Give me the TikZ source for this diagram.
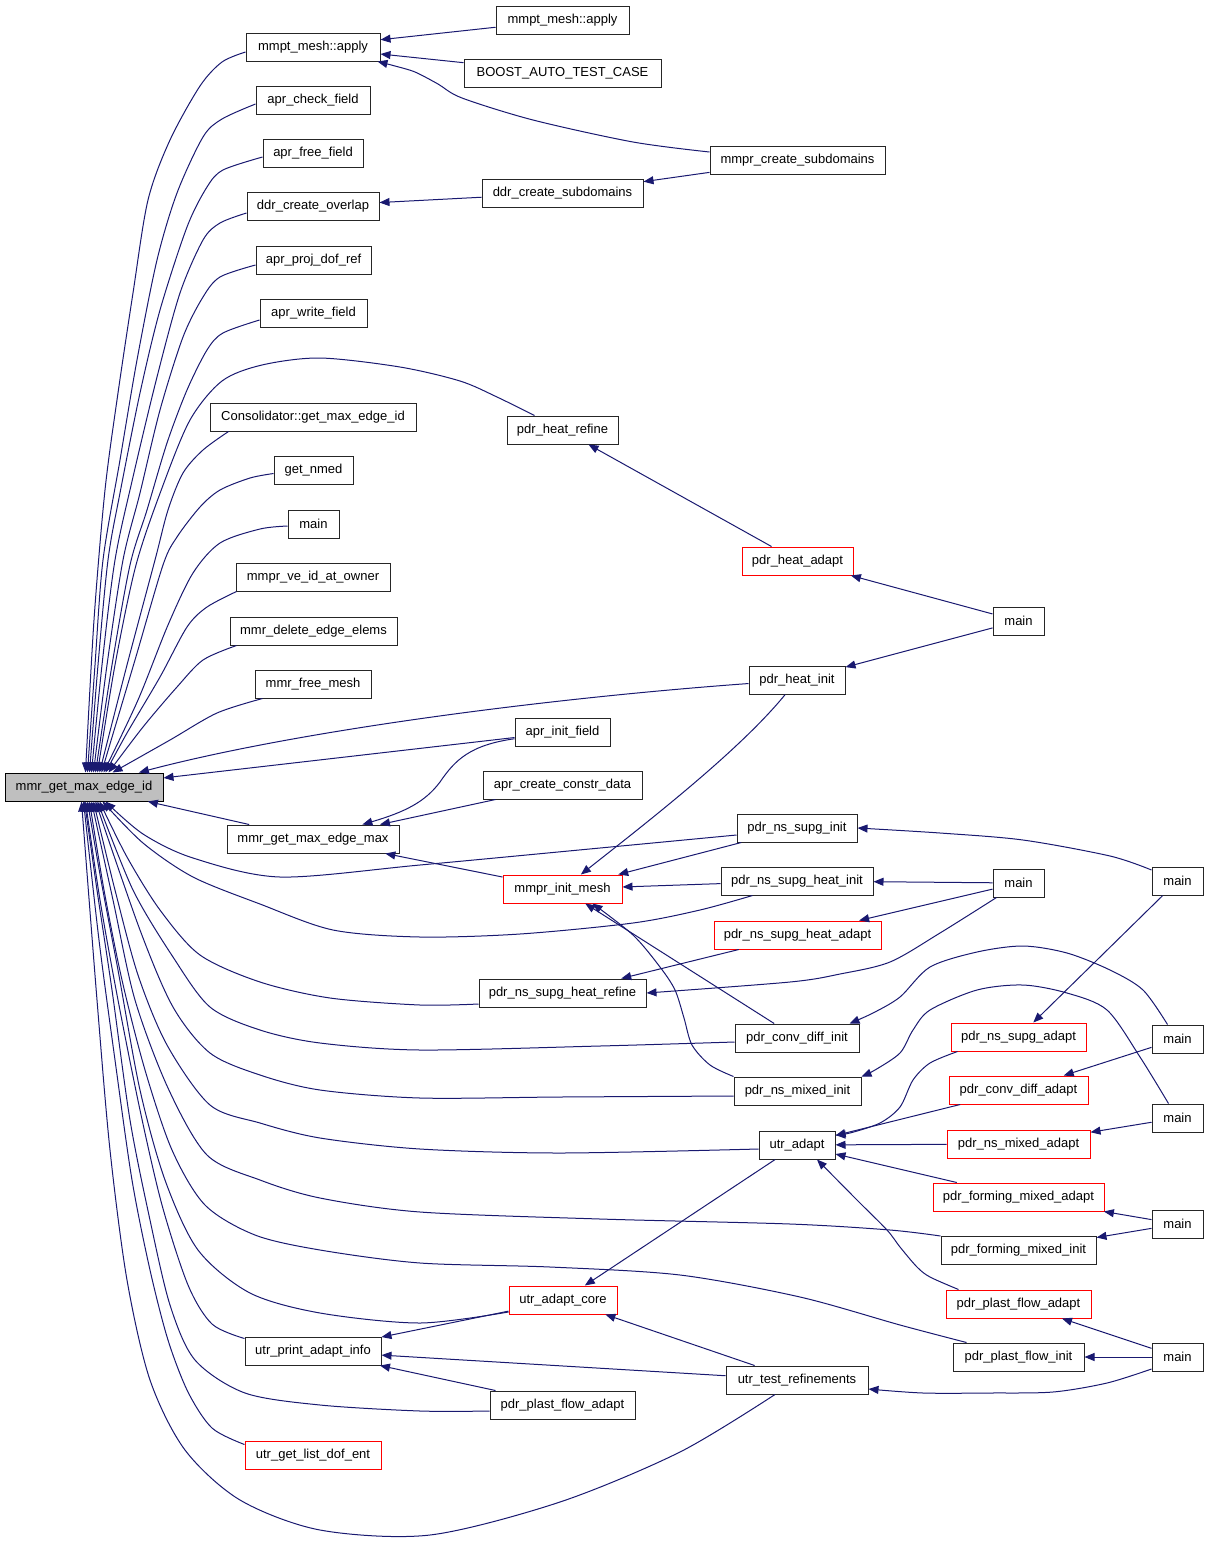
\documentclass[tikz,border=0pt]{standalone}
\usepackage{fontspec}
\setmainfont{Liberation Sans}
\usetikzlibrary{arrows.meta}
\definecolor{dxblue}{HTML}{191970}
\definecolor{dxgray}{HTML}{BFBFBF}
\newcommand\dxfont{\fontsize{13}{15}\selectfont}
\tikzset{
  fn/.style={draw=black!85, line width=1pt, fill=white, minimum height=28pt, inner sep=0pt, font=\dxfont},
  fnred/.style={fn, draw=red},
  fngray/.style={fn, fill=dxgray, draw=black},
  call/.style={draw=dxblue, line width=1pt, -{Triangle[length=10pt,width=8pt]}},
}
\begin{document}
\begin{tikzpicture}[x=1pt,y=-1pt]
\useasboundingbox (0,0) rectangle (1208,1543);
% ---------- nodes ----------
\node[fn, minimum width=134pt] (apply1) at (313,47) {mmpt\_mesh::apply};
\node[fn, minimum width=114pt] (chk) at (313,100) {apr\_check\_field};
\node[fn, minimum width=100pt] (free) at (313,153) {apr\_free\_field};
\node[fn, minimum width=132pt] (ovl) at (313,206) {ddr\_create\_overlap};
\node[fn, minimum width=115pt] (proj) at (313.5,260) {apr\_proj\_dof\_ref};
\node[fn, minimum width=107pt] (write) at (313.5,313) {apr\_write\_field};
\node[fn, minimum width=206pt] (cons) at (313,417) {Consolidator::get\_max\_edge\_id};
\node[fn, minimum width=79pt] (nmed) at (313.5,470.5) {get\_nmed};
\node[fn, minimum width=51pt] (main1) at (313.5,524) {main};
\node[fn, minimum width=154pt] (veid) at (313,577) {mmpr\_ve\_id\_at\_owner};
\node[fn, minimum width=167pt] (del) at (313.5,631) {mmr\_delete\_edge\_elems};
\node[fn, minimum width=116pt] (fmesh) at (313,684) {mmr\_free\_mesh};
\node[fngray, minimum width=158pt] (mmr) at (84,787) {mmr\_get\_max\_edge\_id};
\node[fn, minimum width=172pt] (emax) at (313,839) {mmr\_get\_max\_edge\_max};
\node[fn, minimum width=136pt] (upai) at (313,1351) {utr\_print\_adapt\_info};
\node[fnred, minimum width=136pt] (gldof) at (313,1455) {utr\_get\_list\_dof\_ent};

\node[fn, minimum width=133pt] (apply2) at (562.5,20) {mmpt\_mesh::apply};
\node[fn, minimum width=197pt] (boost) at (562.5,73) {BOOST\_AUTO\_TEST\_CASE};
\node[fn, minimum width=161pt] (ddrsub) at (562.5,193) {ddr\_create\_subdomains};
\node[fn, minimum width=111pt] (hrefine) at (562.5,430) {pdr\_heat\_refine};
\node[fn, minimum width=95pt] (initf) at (562.5,732) {apr\_init\_field};
\node[fn, minimum width=159pt] (constr) at (562.5,785) {apr\_create\_constr\_data};
\node[fnred, minimum width=119pt] (initmesh) at (562.5,889) {mmpr\_init\_mesh};
\node[fn, minimum width=167pt] (nshref) at (562.5,993) {pdr\_ns\_supg\_heat\_refine};
\node[fnred, minimum width=108pt] (core) at (563,1300) {utr\_adapt\_core};
\node[fn, minimum width=145pt] (pfa2) at (562.5,1405) {pdr\_plast\_flow\_adapt};

\node[fn, minimum width=175pt] (mcs) at (797.5,160) {mmpr\_create\_subdomains};
\node[fnred, minimum width=111pt] (hadapt) at (797.5,561) {pdr\_heat\_adapt};
\node[fn, minimum width=96pt] (hinit) at (797,680) {pdr\_heat\_init};
\node[fn, minimum width=120pt] (nsinit) at (797,828) {pdr\_ns\_supg\_init};
\node[fn, minimum width=152pt] (nshinit) at (797,881) {pdr\_ns\_supg\_heat\_init};
\node[fnred, minimum width=167pt] (nshad) at (797.5,935) {pdr\_ns\_supg\_heat\_adapt};
\node[fn, minimum width=124pt] (cdinit) at (797,1038) {pdr\_conv\_diff\_init};
\node[fn, minimum width=127pt] (nminit) at (797.5,1091) {pdr\_ns\_mixed\_init};
\node[fn, minimum width=76pt] (uadapt) at (797,1145) {utr\_adapt};
\node[fn, minimum width=142pt] (testref) at (797,1380) {utr\_test\_refinements};

\node[fn, minimum width=51pt] (mainH) at (1018.5,621) {main};
\node[fn, minimum width=51pt] (mainN) at (1018.5,883) {main};
\node[fnred, minimum width=135pt] (supad) at (1018.5,1037) {pdr\_ns\_supg\_adapt};
\node[fnred, minimum width=139pt] (cdad) at (1018.5,1090) {pdr\_conv\_diff\_adapt};
\node[fnred, minimum width=143pt] (nmad) at (1018.5,1144) {pdr\_ns\_mixed\_adapt};
\node[fnred, minimum width=171pt] (fmad) at (1018.5,1197) {pdr\_forming\_mixed\_adapt};
\node[fn, minimum width=155pt] (fminit) at (1018.5,1250.5) {pdr\_forming\_mixed\_init};
\node[fnred, minimum width=145pt] (pfad) at (1018.5,1304) {pdr\_plast\_flow\_adapt};
\node[fn, minimum width=131pt] (pfinit) at (1018.5,1357) {pdr\_plast\_flow\_init};

\node[fn, minimum width=51pt] (mainF) at (1177.5,881) {main};
\node[fn, minimum width=51pt] (mainA) at (1177.5,1039) {main};
\node[fn, minimum width=51pt] (mainB) at (1177.5,1118) {main};
\node[fn, minimum width=51pt] (mainC) at (1177.5,1224) {main};
\node[fn, minimum width=51pt] (mainD) at (1177.5,1357) {main};

% ---------- straight edges ----------
\draw[call] (apply2) -- (apply1);
\draw[call] (boost) -- (apply1);
\draw[call] (mcs) -- (ddrsub);
\draw[call] (ddrsub) -- (ovl);
\draw[call] (hadapt) -- (hrefine);
\draw[call] (mainH) -- (hadapt);
\draw[call] (mainH) -- (hinit);
\draw[call] (initf) -- (mmr);
\draw[call] (constr) -- (emax);
\draw[call] (initmesh) -- (emax);
\draw[call] (emax) -- (mmr);
\draw[call] (nsinit) -- (initmesh);
\draw[call] (nshinit) -- (initmesh);
\draw[call] (mainN) -- (nshinit);
\draw[call] (mainN) -- (nshad);
\draw[call] (nshad) -- (nshref);
\draw[call] (cdinit) -- (initmesh);
\draw[call] (mainF) -- (supad);
\draw[call] (mainA) -- (cdad);
\draw[call] (cdad) -- (uadapt);
\draw[call] (mainB) -- (nmad);
\draw[call] (nmad) -- (uadapt);
\draw[call] (mainC) -- (fmad);
\draw[call] (mainC) -- (fminit);
\draw[call] (fmad) -- (uadapt);
\draw[call] (mainD) -- (pfad);
\draw[call] (mainD) -- (pfinit);
\draw[call] (uadapt) -- (core);
\draw[call] (testref) -- (core);
\draw[call] (core) -- (upai);
\draw[call] (testref) -- (upai);
\draw[call] (pfa2) -- (upai);

% ---------- simple curves ----------
\draw[call] (hinit) .. controls (550,698) and (300,730) .. (mmr);
\draw[call] (hinit) .. controls (740,750) and (650,820) .. (initmesh);
\draw[call] (initf) .. controls (470,745) and (455,760) .. (440,782) .. controls (425,802) and (405,812) .. (emax);

% ---------- curves on the right ----------
\draw[call] plot[smooth] coordinates {([yshift=8pt]mcs.west) (633,142) (533,120) (462,98) (438,84) (415,72) (395,66) ([xshift=-3pt]apply1.south east)};
\draw[call] plot[smooth] coordinates {([yshift=11pt]mainF.west) (1110,856) (1023,840) (940,833) (nsinit.east)};
\draw[call] plot[smooth] coordinates {([xshift=4pt]mainN.south west) (940,933) (890,962) (840,974) (790,982) (nshref.east)};
\draw[call] plot[smooth] coordinates {([xshift=16pt]mainA.north west) (1143,990) (1110,970) (1067,953) (1023,946) (977,952) (930,967) (900,997) (873,1013) ([xshift=-10pt]cdinit.north east)};
\draw[call] plot[smooth] coordinates {([xshift=17pt]mainB.north west) (1140,1057) (1107,1010) (1067,993) (1023,985) (977,990) (930,1010) (913,1030) (900,1053) (875,1070) (nminit.north east)};
\draw[call] plot[smooth] coordinates {([xshift=7pt]supad.south west) (930,1063) (913,1080) (900,1107) (880,1123) (850,1133) ([yshift=10pt]uadapt.east)};
\draw[call] plot[smooth] coordinates {([xshift=13pt]pfad.north west) (930,1277) (917,1267) (900,1247) (887,1230) (857,1200) ([xshift=20pt]uadapt.south)};
\draw[call] plot[smooth] coordinates {([yshift=-12pt]mainD.west) (1107,1383) (1053,1392) (990,1393) (923,1393) ([yshift=-9pt]testref.east)};
\draw[call] plot[smooth] coordinates {(nminit.north west) (710,1065) (692,1045) (684,1018) (675,990) (660,967) (633,935) ([xshift=30pt]initmesh.south)};

% ---------- upper fan into mmr ----------
\draw[call] plot[smooth] coordinates {([yshift=-5pt]apply1.west) (222,62) (200,86) (170,140) (148,200) (133,293) (118,393) (105,490) (94,620) ([xshift=81pt]mmr.north west)};
\draw[call] plot[smooth] coordinates {([yshift=-4pt]chk.west) (222,119) (203,137) (177,193) (157,260) (137,360) (120,460) (103,560) (95,665) ([xshift=83pt]mmr.north west)};
\draw[call] plot[smooth] coordinates {([yshift=-4pt]free.west) (223,170) (207,187) (187,227) (160,310) (140,393) (120,493) (108,560) (98,665) ([xshift=85pt]mmr.north west)};
\draw[call] plot[smooth] coordinates {([yshift=-7pt]ovl.west) (220,223) (203,240) (180,293) (157,377) (133,477) (115,560) (102,665) ([xshift=87pt]mmr.north west)};
\draw[call] plot[smooth] coordinates {([yshift=-5pt]proj.west) (220,277) (203,297) (183,337) (160,410) (140,493) (123,560) (107,665) ([xshift=89pt]mmr.north west)};
\draw[call] plot[smooth] coordinates {([yshift=-7pt]write.west) (223,333) (207,350) (187,390) (167,443) (147,510) (130,565) (112,665) ([xshift=91pt]mmr.north west)};
\draw[call] plot[smooth] coordinates {([xshift=28pt]hrefine.north west) (497,397) (460,381) (400,367) (320,358) (262,365) (222,381) (190,420) (162,488) (136,565) (115,665) ([xshift=93pt]mmr.north west)};
\draw[call] plot[smooth] coordinates {([xshift=19pt]cons.south west) (203,450) (183,473) (168,510) (155,560) (127,665) ([xshift=95pt]mmr.north west)};
\draw[call] plot[smooth] coordinates {([yshift=-3pt]nmed.west) (250,478) (220,490) (200,507) (177,537) (163,565) (135,660) ([xshift=97pt]mmr.north west)};
\draw[call] plot[smooth] coordinates {([yshift=-2pt]main1.west) (260,529) (220,543) (193,573) (168,625) (138,700) ([xshift=99pt]mmr.north west)};
\draw[call] plot[smooth] coordinates {([xshift=1pt]veid.south west) (207,607) (187,627) (160,677) (127,733) ([xshift=101pt]mmr.north west)};
\draw[call] plot[smooth] coordinates {([xshift=7pt]del.south west) (203,660) (177,687) (143,727) ([xshift=104pt]mmr.north west)};
\draw[call] plot[smooth] coordinates {([xshift=8pt]fmesh.south west) (217,713) (170,740) ([xshift=108pt]mmr.north west)};

% ---------- lower fan into mmr ----------
\draw[call] plot[smooth] coordinates {([yshift=-7pt]nsinit.west) (600,848) (420,865) (280,877) (193,858) (143,834) ([xshift=101pt]mmr.south west)};
\draw[call] plot[smooth] coordinates {([xshift=32pt]nshinit.south west) (700,910) (633,923) (520,934) (420,937) (333,930) (260,904) (193,877) (143,843) ([xshift=98pt]mmr.south west)};
\draw[call] plot[smooth] coordinates {([yshift=-11pt]nshref.west) (420,1005) (330,998) (260,982) (200,955) (160,910) (127,857) ([xshift=95pt]mmr.south west)};
\draw[call] plot[smooth] coordinates {([yshift=-4pt]cdinit.west) (600,1046) (420,1050) (320,1043) (260,1030) (210,1007) (173,957) (133,890) ([xshift=93pt]mmr.south west)};
\draw[call] plot[smooth] coordinates {([yshift=-5pt]nminit.west) (560,1097) (420,1098) (320,1090) (260,1075) (210,1053) (173,1007) (140,930) ([xshift=91pt]mmr.south west)};
\draw[call] plot[smooth] coordinates {([yshift=-4pt]uadapt.west) (560,1153) (420,1149) (320,1138) (260,1123) (210,1105) (167,1045) (138,975) (115,890) ([xshift=89pt]mmr.south west)};
\draw[call] plot[smooth] coordinates {(fminit.north west) (890,1230) (790,1224) (600,1219) (420,1212) (320,1198) (260,1180) (207,1155) (168,1088) (135,1000) (113,900) ([xshift=87pt]mmr.south west)};
\draw[call] plot[smooth] coordinates {([xshift=14pt]pfinit.north west) (900,1325) (800,1297) (680,1275) (550,1267) (420,1263) (320,1250) (255,1235) (205,1205) (172,1150) (145,1070) (122,980) (104,890) ([xshift=85pt]mmr.south west)};
\draw[call] plot[smooth] coordinates {([yshift=-12pt]core.west) (420,1323) (320,1313) (250,1293) (198,1250) (165,1180) (140,1090) (118,970) (101,880) ([xshift=83pt]mmr.south west)};
\draw[call] plot[smooth] coordinates {([yshift=-2pt]upai.north west) (212,1324) (188,1285) (162,1205) (140,1110) (118,1000) (100,900) ([xshift=81pt]mmr.south west)};
\draw[call] plot[smooth] coordinates {([yshift=-6pt]pfa2.west) (420,1411) (320,1405) (245,1393) (195,1360) (170,1305) (150,1220) (130,1120) (112,990) (97,890) ([xshift=80pt]mmr.south west)};
\draw[call] plot[smooth] coordinates {([yshift=-4pt]gldof.north west) (212,1428) (188,1392) (168,1340) (150,1270) (132,1180) (115,1060) (99,940) ([xshift=79pt]mmr.south west)};
\draw[call] plot[smooth] coordinates {([xshift=-22pt]testref.south) (680,1452) (560,1502) (430,1535) (320,1530) (240,1500) (185,1450) (150,1380) (127,1280) (110,1150) (97,1000) ([xshift=77pt]mmr.south west)};
\end{tikzpicture}
\end{document}
